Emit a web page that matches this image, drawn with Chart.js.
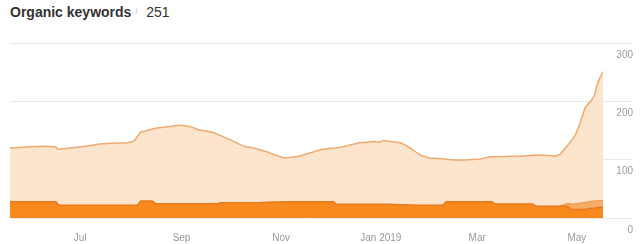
<!DOCTYPE html>
<html>
<head>
<meta charset="utf-8">
<script src="https://cdn.jsdelivr.net/npm/chart.js@4/dist/chart.umd.min.js"></script>
<style>
  body { margin: 0; background: #fff; font-family: "Liberation Sans", Arial, sans-serif; }
  #head { position: absolute; left: 10px; top: 4px; font-size: 14px; color: #333; white-space: nowrap; }
  #head b { font-weight: bold; }
  #head .info { font-size: 8px; color: #bbb; vertical-align: 4px; margin: 0 9px 0 4px; }
  #wrap { position: absolute; left: 0; top: 30px; width: 644px; height: 214px; }
</style>
</head>
<body>
<div id="head"><b>Organic keywords</b><span class="info">i</span>251</div>
<div id="wrap"><canvas id="kwChart" width="644" height="214"></canvas></div>
<script>
  // days counted from 2018-05-19
  const totalDays = [0, 6, 12, 20, 28, 29, 34, 40, 48, 55, 62, 72, 76, 78, 80, 84, 89, 95, 101, 105, 110, 116, 120, 125, 130, 135, 140, 144, 148, 153, 158, 162, 168, 172, 177, 183, 190, 195, 199, 204, 208, 214, 218, 223, 226, 229, 233, 239, 242, 245, 248, 251, 254, 257, 262, 266, 270, 275, 281, 288, 294, 300, 306, 312, 318, 324, 330, 334, 337, 340, 343, 346, 349, 352, 354, 356, 358, 359, 361, 363];
  const totalValues = [120, 121, 122, 123, 122, 118, 119, 121, 124, 127, 128, 129, 132, 140, 147, 150, 154, 156, 158, 159, 157, 151, 149, 146, 140, 134, 127, 122, 121, 117, 113, 108, 103, 104, 106, 111, 117, 119, 120, 122, 125, 129, 130, 131, 130, 133, 131, 129, 125, 120, 114, 108, 105, 103, 102, 101, 100, 99, 100, 101, 105, 105, 106, 106, 107, 108, 107, 106, 110, 120, 130, 142, 163, 189, 196, 202, 212, 225, 240, 251];

  const midDays = [336, 338, 341, 345, 352, 356, 363];
  const midValues = [20, 22, 25, 24, 27, 29, 30];

  const lowDays = [0, 28, 30, 78, 80, 87, 89, 127, 129, 152, 158, 170, 198, 200, 230, 250, 265, 267, 295, 297, 320, 322, 341, 344, 352, 363];
  const lowValues = [28, 28, 22, 22, 29, 29, 25, 24.5, 26, 26, 27, 28, 28, 23.5, 23.5, 22, 22, 28, 28, 24, 24, 20, 20, 14, 15, 19];

  const tickDays = [43, 105, 166, 227, 286, 347];
  const tickLabels = ['Jul', 'Sep', 'Nov', 'Jan 2019', 'Mar', 'May'];
  const yTicks = [0, 100, 200, 300];

  const pts = (xs, ys) => xs.map((x, i) => ({ x: x, y: ys[i] }));

  const ctx = document.getElementById('kwChart').getContext('2d');
  const kwChart = new Chart(ctx, {
    type: 'line',
    data: {
      datasets: [{
        label: 'low',
        data: pts(lowDays, lowValues),
        borderColor: '#e97a1c',
        backgroundColor: '#f8891d',
        borderWidth: 1.5,
        fill: 'origin'
      }, {
        label: 'mid',
        data: pts(midDays, midValues),
        borderColor: '#ee9a4e',
        backgroundColor: '#f6ab66',
        borderWidth: 1,
        fill: 'origin'
      }, {
        label: 'total',
        data: pts(totalDays, totalValues),
        borderColor: '#f0aa70',
        backgroundColor: '#fde4cd',
        borderWidth: 1.5,
        fill: 'origin'
      }]
    },
    options: {
      responsive: false,
      animation: false,
      devicePixelRatio: 1,
      layout: { padding: { left: 10, top: 13, bottom: -6, right: 11 } },
      elements: { point: { radius: 0 }, line: { tension: 0 } },
      plugins: { legend: { display: false }, tooltip: { enabled: false } },
      scales: {
        x: {
          type: 'linear',
          min: 0,
          max: 363,
          grid: { display: false },
          border: { display: false },
          afterBuildTicks: s => { s.ticks = tickDays.map(v => ({ value: v })); },
          ticks: {
            autoSkip: false,
            maxRotation: 0,
            padding: 6,
            color: '#999',
            font: { family: 'Liberation Sans', size: 10 },
            callback: (v, i) => tickLabels[i]
          }
        },
        y: {
          position: 'right',
          min: 0,
          max: 300,
          afterBuildTicks: s => { s.ticks = yTicks.map(v => ({ value: v })); },
          afterFit: s => { s.width = 30; },
          grid: { color: '#e8e8e8', tickLength: 30 },
          border: { display: false },
          ticks: {
            padding: -26,
            crossAlign: 'far',
            labelOffset: 12,
            color: '#999',
            font: { family: 'Liberation Sans', size: 10 }
          }
        }
      }
    }
  });
</script>
</body>
</html>
